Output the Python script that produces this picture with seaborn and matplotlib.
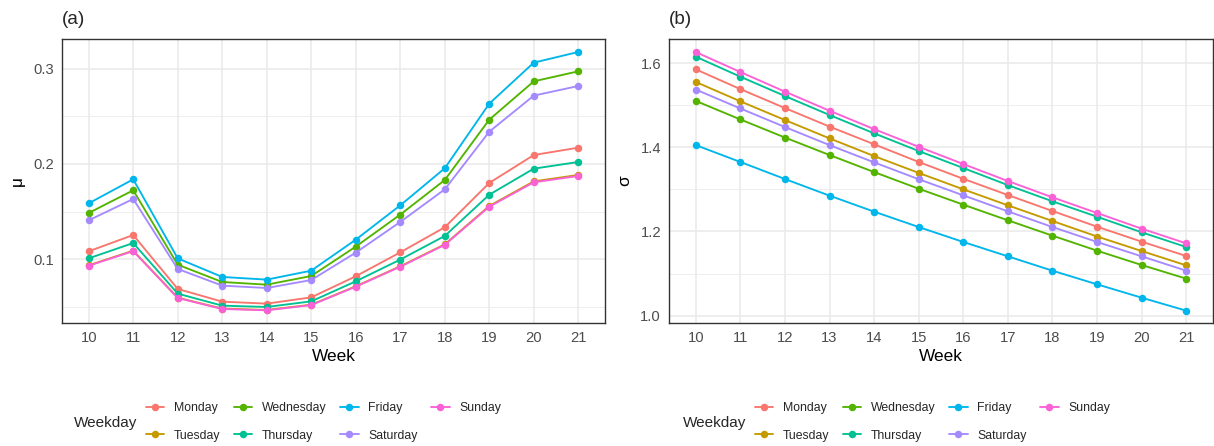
import numpy as np
import pandas as pd
import seaborn as sns
import matplotlib
matplotlib.use("Agg")
import matplotlib.pyplot as plt
from matplotlib.lines import Line2D
from matplotlib.ticker import MultipleLocator, FormatStrFormatter

# ---- data ---------------------------------------------------------------
weeks = list(range(10, 22))
weekdays = ["Monday", "Tuesday", "Wednesday", "Thursday", "Friday", "Saturday", "Sunday"]

mu_monday    = [0.1084, 0.1255, 0.0689, 0.0556, 0.0535, 0.0601, 0.0822, 0.1073, 0.1336, 0.1801, 0.2094, 0.2171]
mu_tuesday   = [0.0937, 0.1091, 0.0598, 0.0483, 0.0469, 0.0524, 0.0717, 0.0927, 0.1157, 0.1560, 0.1818, 0.1885]
mu_wednesday = [0.1486, 0.1724, 0.0944, 0.0762, 0.0734, 0.0825, 0.1133, 0.1469, 0.1832, 0.2465, 0.2867, 0.2972]
mu_thursday  = [0.1010, 0.1171, 0.0640, 0.0514, 0.0500, 0.0559, 0.0769, 0.0997, 0.1245, 0.1678, 0.1951, 0.2021]
mu_friday    = [0.1587, 0.1839, 0.1010, 0.0815, 0.0787, 0.0881, 0.1206, 0.1566, 0.1955, 0.2633, 0.3063, 0.3175]
mu_saturday  = [0.1409, 0.1633, 0.0899, 0.0724, 0.0699, 0.0783, 0.1070, 0.1392, 0.1734, 0.2339, 0.2717, 0.2818]
mu_sunday    = [0.0933, 0.1086, 0.0594, 0.0479, 0.0465, 0.0520, 0.0713, 0.0922, 0.1152, 0.1552, 0.1808, 0.1874]

sd_monday    = [1.585, 1.538, 1.493, 1.449, 1.407, 1.365, 1.325, 1.2865, 1.2485, 1.2113, 1.1757, 1.1417]
sd_tuesday   = [1.555, 1.509, 1.4646, 1.421, 1.379, 1.339, 1.300, 1.262, 1.2248, 1.188, 1.1535, 1.1195]
sd_wednesday = [1.510, 1.466, 1.423, 1.3815, 1.341, 1.3015, 1.2636, 1.2264, 1.190, 1.1543, 1.1203, 1.0879]
sd_thursday  = [1.615, 1.5675, 1.5216, 1.4765, 1.433, 1.391, 1.3506, 1.310, 1.2715, 1.235, 1.198, 1.163]
sd_friday    = [1.405, 1.365, 1.3245, 1.285, 1.247, 1.2105, 1.175, 1.1409, 1.1068, 1.0744, 1.0427, 1.0119]
sd_saturday  = [1.537, 1.492, 1.448, 1.405, 1.364, 1.324, 1.2857, 1.2477, 1.2105, 1.175, 1.1409, 1.1068]
sd_sunday    = [1.626, 1.5786, 1.532, 1.4867, 1.443, 1.401, 1.360, 1.3197, 1.281, 1.2438, 1.2066, 1.1717]

mu_series = [mu_monday, mu_tuesday, mu_wednesday, mu_thursday, mu_friday, mu_saturday, mu_sunday]
sd_series = [sd_monday, sd_tuesday, sd_wednesday, sd_thursday, sd_friday, sd_saturday, sd_sunday]

rows = []
for day, mu_vals, sd_vals in zip(weekdays, mu_series, sd_series):
    for w, m, s in zip(weeks, mu_vals, sd_vals):
        rows.append({"Week": w, "Weekday": day, "mu": m, "sigma": s})
df = pd.DataFrame(rows)
df["Weekday"] = pd.Categorical(df["Weekday"], categories=weekdays, ordered=True)

# ggplot-style hue palette
hue_colors = ["#F8766D", "#C49A00", "#53B400", "#00C094", "#00B6EB", "#A58AFF", "#FB61D7"]
palette = dict(zip(weekdays, hue_colors))

# ---- style --------------------------------------------------------------
sns.set_theme(style="white")
plt.rcParams["font.family"] = ["Liberation Sans", "DejaVu Sans"]

W, H = 1214, 446
fig = plt.figure(figsize=(W / 100, H / 100), dpi=100)

def px_axes(x0, y0, x1, y1):
    return fig.add_axes([x0 / W, 1 - y1 / H, (x1 - x0) / W, (y1 - y0) / H])

ax_a = px_axes(62, 39, 605, 323)
ax_b = px_axes(669, 39, 1213, 323)

GRID = "#EBEBEB"
BORDER = "#333333"
LW = 1.35
MS = 5.4

def style_panel(ax, ylim, major, minor, ylabel):
    ax.set_xlim(9.4, 21.6)
    ax.set_ylim(*ylim)
    ax.set_xticks(weeks)
    ax.set_xticklabels([str(w) for w in weeks])
    ax.yaxis.set_major_locator(MultipleLocator(major))
    ax.yaxis.set_minor_locator(MultipleLocator(minor))
    ax.yaxis.set_major_formatter(FormatStrFormatter("%.1f"))
    ax.grid(which="major", axis="both", color=GRID, lw=1.2, zorder=0)
    ax.grid(which="minor", axis="y", color=GRID, lw=0.6, zorder=0)
    ax.set_axisbelow(True)
    for sp in ax.spines.values():
        sp.set_color(BORDER)
        sp.set_linewidth(1.0)
    ax.tick_params(which="major", length=2.9, width=0.8, color=BORDER,
                   labelsize=10.6, labelcolor="#4D4D4D", pad=2.8)
    ax.tick_params(which="minor", length=0)
    ax.set_xlabel("Week", fontsize=12.4, color="black", labelpad=3)
    ax.set_ylabel(ylabel, fontsize=12.4, color="black", labelpad=6)

for ax, col in [(ax_a, "mu"), (ax_b, "sigma")]:
    sns.lineplot(data=df, x="Week", y=col, hue="Weekday", hue_order=weekdays,
                 palette=palette, marker="o", markersize=MS, markeredgewidth=0,
                 lw=LW, legend=False, ax=ax)

style_panel(ax_a, (0.0332, 0.3311), 0.1, 0.05, "μ")
style_panel(ax_b, (0.9826, 1.657), 0.2, 0.1, "σ")

fig.text(62 / W, 1 - 20 / H, "(a)", fontsize=13.6, va="center", ha="left")
fig.text(669 / W, 1 - 20 / H, "(b)", fontsize=13.6, va="center", ha="left")

# ---- legends below each panel -----------------------------------------
handles = [Line2D([0], [0], color=c, lw=LW, marker="o", markersize=MS,
                  markeredgewidth=0) for c in hue_colors]

for title_x, leg_x in [(74, 146), (683, 755)]:
    fig.text(title_x / W, 1 - 423 / H, "Weekday", fontsize=11, va="center", ha="left")
    fig.legend(handles, weekdays, ncol=4, loc="center left",
               bbox_to_anchor=(leg_x / W, 1 - 422 / H), frameon=False,
               fontsize=8.8, handlelength=1.5, handletextpad=0.8,
               columnspacing=1.1, labelspacing=1.25, borderaxespad=0,
               borderpad=0)

fig.savefig("out.png", dpi=100)
